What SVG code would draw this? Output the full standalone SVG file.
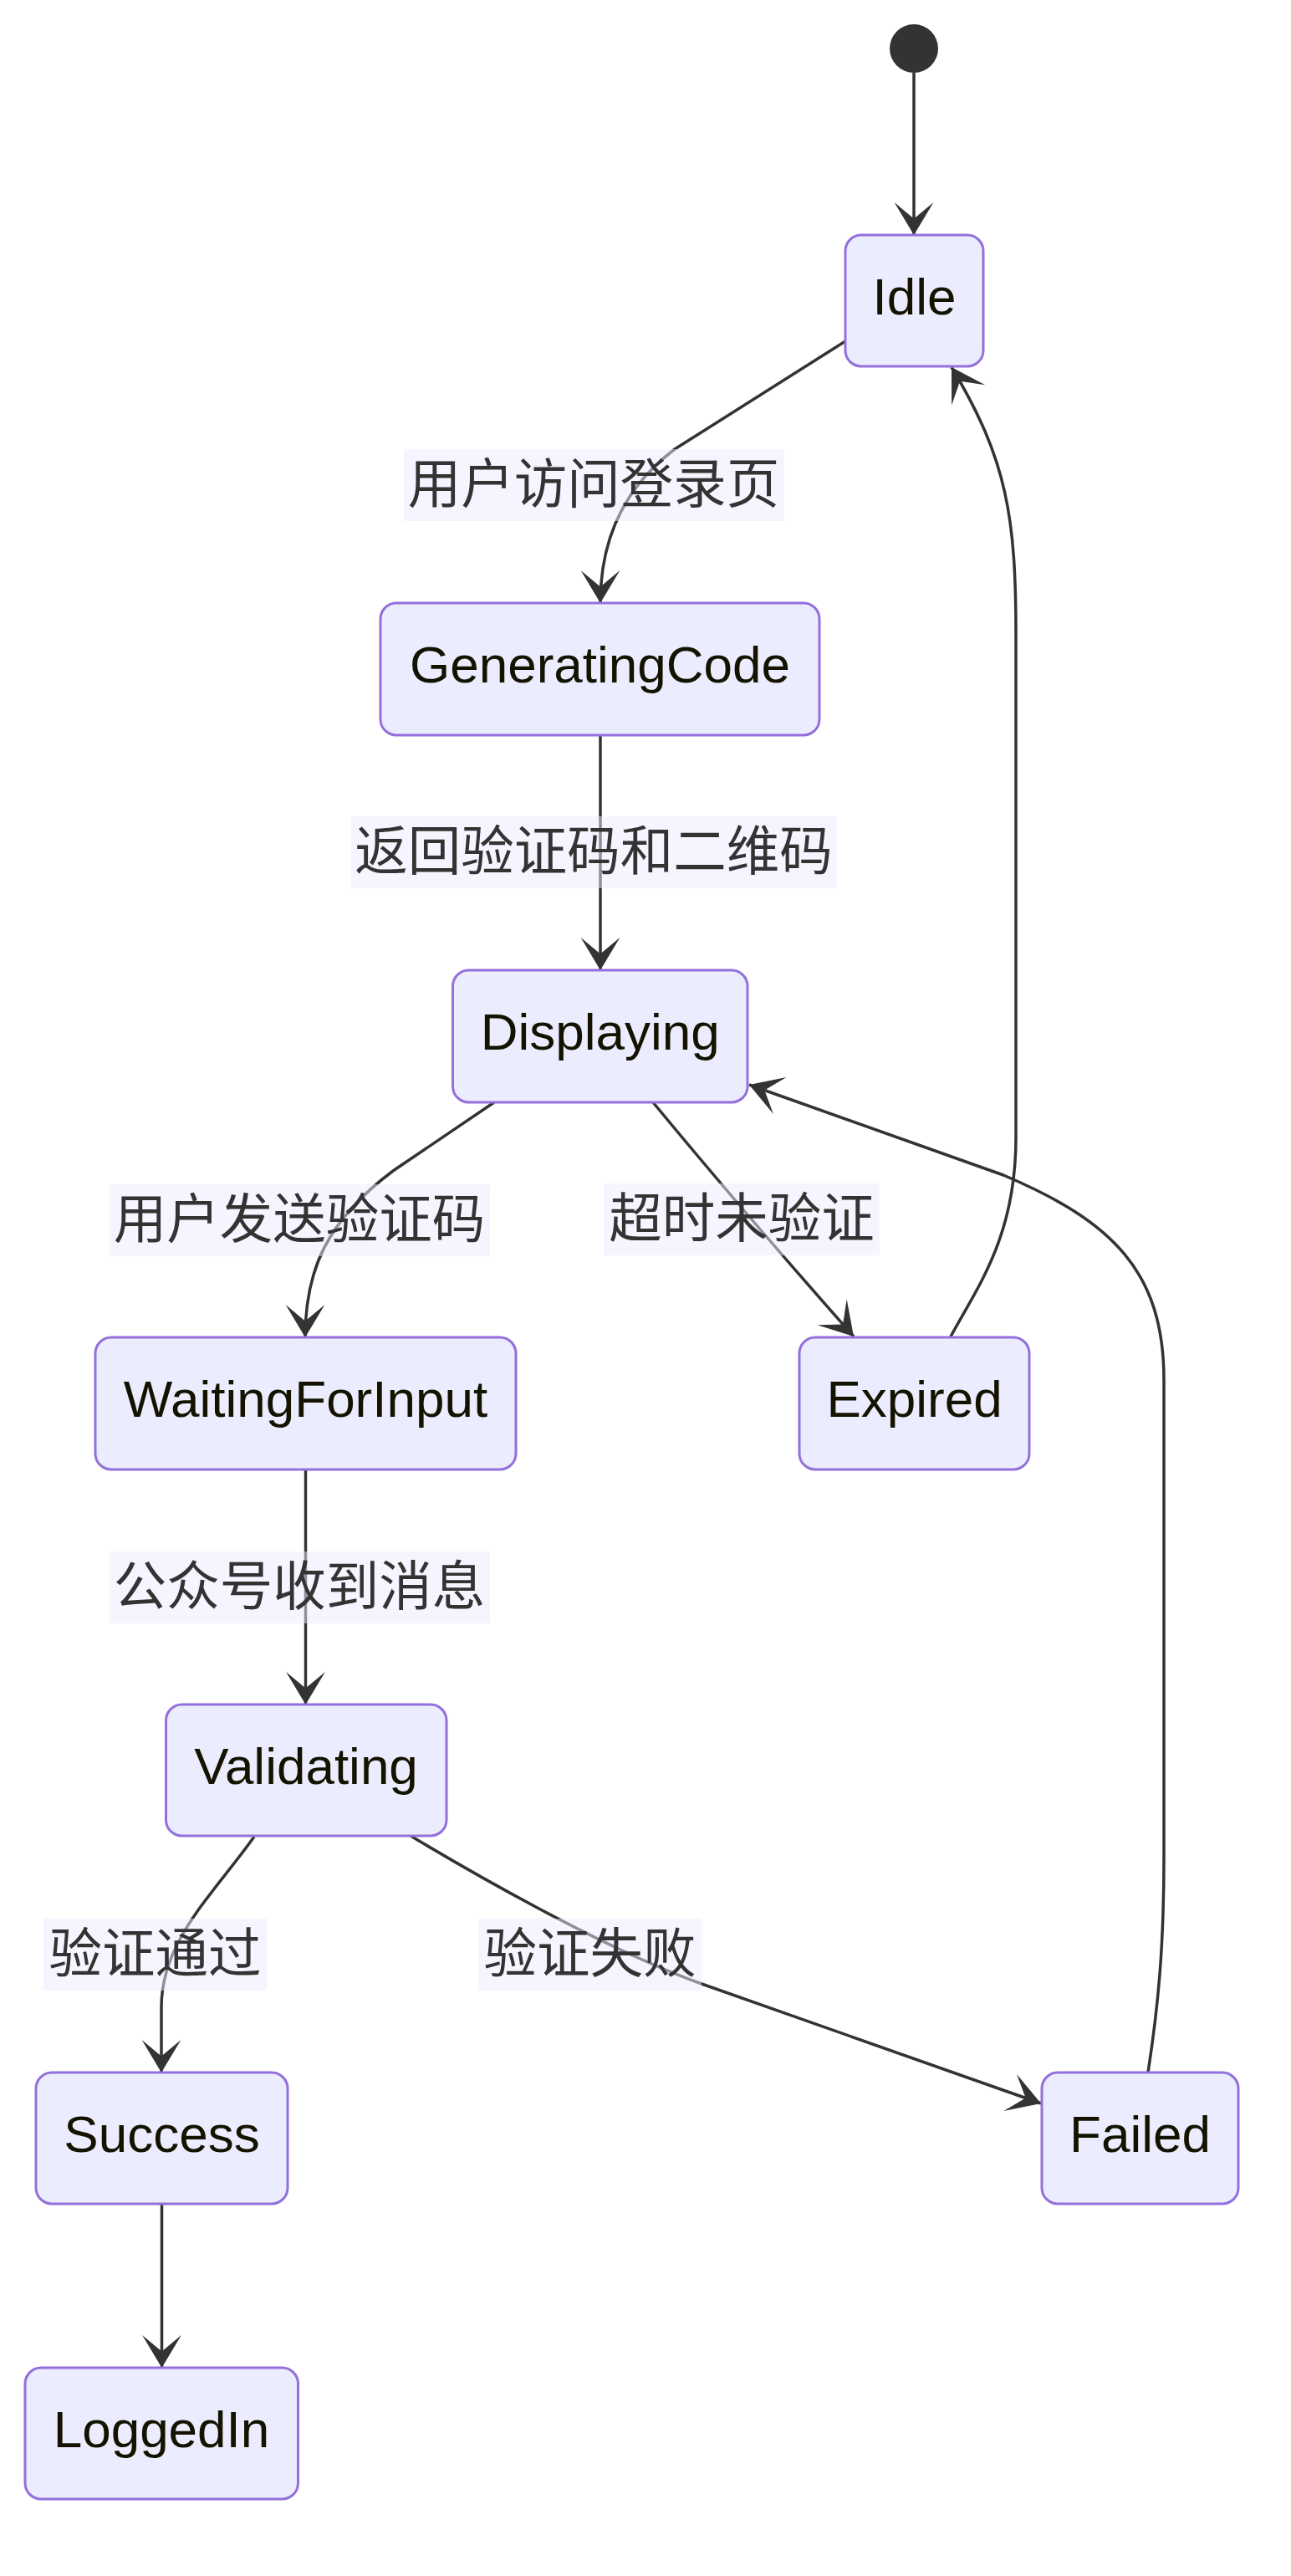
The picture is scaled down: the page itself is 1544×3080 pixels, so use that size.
<svg xmlns="http://www.w3.org/2000/svg" width="1544" height="3080" viewBox="0 0 1544 3080">
<style>
.node rect{fill:#ECECFF;stroke:#9370DB;stroke-width:3}
.node text{font-family:"Liberation Sans",Arial,"Noto Sans CJK SC",sans-serif;font-size:62px;fill:#131300;text-anchor:middle}
.edge{fill:none;stroke:#333333;stroke-width:3.5}
.lbl rect{fill:#ECECFF;opacity:0.5}
.lbl text{font-family:"Liberation Sans","Noto Sans CJK SC",sans-serif;font-size:63.5px;fill:#333333;text-anchor:middle}
</style>
<defs>
<marker id="barb" viewBox="0 0 20 14" refX="19" refY="7" markerWidth="78" markerHeight="55" markerUnits="userSpaceOnUse" orient="auto">
<path d="M19,7 L9,13 L14,7 L9,1 Z" fill="#333333"/>
</marker>
</defs>
<rect width="1544" height="3080" fill="#ffffff"/>
<g id="connectors">
<path class="edge" d="M1093,87 L1093,281" marker-end="url(#barb)"/>
<path class="edge" d="M1011,408 L807,537 C 750,580 718,640 718,721" marker-end="url(#barb)"/>
<path class="edge" d="M718,879 L718,1160" marker-end="url(#barb)"/>
<path class="edge" d="M591,1318 L470,1400 C 390,1460 365,1520 365,1599" marker-end="url(#barb)"/>
<path class="edge" d="M781,1318 Q 890,1450 1021,1598" marker-end="url(#barb)"/>
<path class="edge" d="M1137,1598 C 1168,1540 1215,1480 1215,1360 L1215,760 C 1215,620 1205,550 1138,439" marker-end="url(#barb)"/>
<path class="edge" d="M365.5,1757 L365.5,2038" marker-end="url(#barb)"/>
<path class="edge" d="M304,2196 C 255,2265 193,2320 193,2400 L193,2478" marker-end="url(#barb)"/>
<path class="edge" d="M193.5,2635 L193.5,2831" marker-end="url(#barb)"/>
<path class="edge" d="M491,2195 C 551,2231 722,2331 842,2373 L1245,2515" marker-end="url(#barb)"/>
<path class="edge" d="M1373,2478 C 1385,2400 1392,2330 1392,2220 L1392,1650 C 1392,1520 1330,1460 1200,1405 L896,1297" marker-end="url(#barb)"/>
</g>
<g id="edge-labels">
<g class="lbl"><rect x="483" y="537" width="455" height="86"/><text x="710" y="601">用户访问登录页</text></g>
<g class="lbl"><rect x="420" y="976" width="581" height="86"/><text x="710" y="1040">返回验证码和二维码</text></g>
<g class="lbl"><rect x="131" y="1416" width="455" height="86"/><text x="358" y="1480">用户发送验证码</text></g>
<g class="lbl"><rect x="722" y="1415" width="330" height="86"/><text x="887" y="1479">超时未验证</text></g>
<g class="lbl"><rect x="131" y="1855" width="455" height="86"/><text x="358" y="1919">公众号收到消息</text></g>
<g class="lbl"><rect x="52" y="2294" width="267" height="86"/><text x="185.5" y="2358">验证通过</text></g>
<g class="lbl"><rect x="572" y="2294" width="267" height="86"/><text x="705.5" y="2358">验证失败</text></g>
</g>
<g id="start"><circle cx="1093" cy="58" r="29" fill="#333333"/></g>
<g id="Idle" class="node"><rect x="1011" y="281" width="165" height="157" rx="19"/><text x="1093.5" y="376">Idle</text></g>
<g id="GeneratingCode" class="node"><rect x="455" y="721" width="525" height="158" rx="19"/><text x="717.5" y="816">GeneratingCode</text></g>
<g id="Displaying" class="node"><rect x="541.5" y="1160" width="352.5" height="158" rx="19"/><text x="717.7" y="1255">Displaying</text></g>
<g id="WaitingForInput" class="node"><rect x="114" y="1599" width="503" height="158" rx="19"/><text x="365.5" y="1694">WaitingForInput</text></g>
<g id="Expired" class="node"><rect x="956" y="1599" width="275" height="158" rx="19"/><text x="1093.5" y="1694">Expired</text></g>
<g id="Validating" class="node"><rect x="198.5" y="2038" width="335.5" height="157" rx="19"/><text x="366" y="2133">Validating</text></g>
<g id="Success" class="node"><rect x="43" y="2478" width="301" height="157" rx="19"/><text x="193.5" y="2573">Success</text></g>
<g id="Failed" class="node"><rect x="1246" y="2478" width="235" height="157" rx="19"/><text x="1363.5" y="2573">Failed</text></g>
<g id="LoggedIn" class="node"><rect x="30" y="2831" width="326.5" height="157" rx="19"/><text x="193" y="2926">LoggedIn</text></g>
</svg>
